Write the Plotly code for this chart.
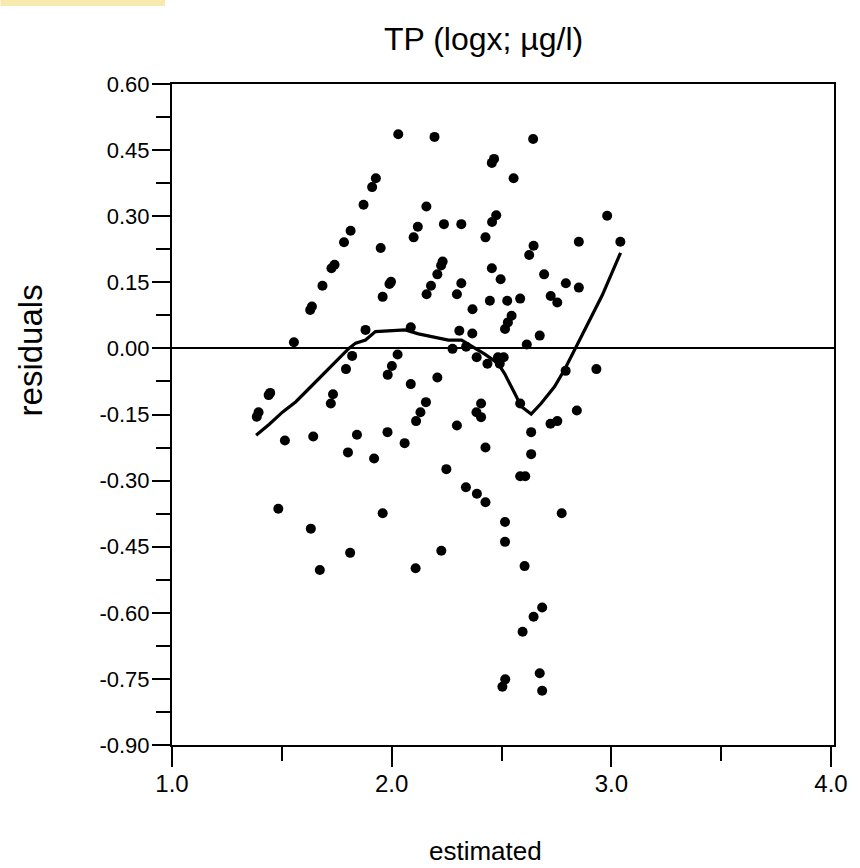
import plotly.graph_objects as go

# Scatter data: estimated (x) and residuals (y)
est = [2.030, 2.195, 1.928, 1.911, 1.872, 2.158, 2.119, 1.813, 2.100, 1.783,
       1.950, 1.740, 1.726, 2.208, 1.997, 1.990, 2.179, 1.685, 1.959, 2.159,
       1.637, 1.629, 1.881, 2.087, 1.555, 2.027, 1.820,
       2.644, 2.466, 2.456, 2.555, 2.238, 2.317, 2.981, 2.476, 2.457, 2.427,
       2.852, 3.041, 2.646, 2.626, 2.232, 2.225, 2.456, 2.496, 2.694, 2.793,
       2.852, 2.317, 2.297, 2.724, 2.754, 2.447, 2.526, 2.585, 2.368, 2.546,
       2.529, 2.516, 2.308, 2.367, 2.674, 2.615, 2.277, 2.339, 2.387,
       2.436, 2.484, 2.510, 2.492, 2.208, 2.932, 2.792, 2.156, 2.131, 2.111,
       2.407, 2.386, 2.407, 2.585, 2.297, 2.635, 2.723, 2.754, 2.843, 2.427,
       2.635, 2.249, 2.585, 2.608, 2.338, 2.388, 2.427, 2.774, 2.516, 2.516,
       2.226, 2.109, 2.605,
       2.001, 1.982, 1.792, 2.087, 1.440, 1.447, 1.386, 1.394, 1.733, 1.723,
       1.514, 1.643, 1.842, 1.981, 1.801, 2.059, 1.920, 1.484, 1.959, 1.632,
       1.811, 1.673,
       2.685, 2.646, 2.596, 2.674, 2.685, 2.517, 2.504]
resid = [0.486, 0.480, 0.386, 0.366, 0.326, 0.322, 0.276, 0.267, 0.252, 0.241,
         0.228, 0.190, 0.182, 0.168, 0.151, 0.146, 0.142, 0.142, 0.117, 0.123,
         0.095, 0.087, 0.042, 0.048, 0.014, -0.014, -0.017,
         0.475, 0.430, 0.421, 0.386, 0.282, 0.282, 0.301, 0.302, 0.287, 0.252,
         0.242, 0.242, 0.233, 0.212, 0.197, 0.188, 0.182, 0.157, 0.168, 0.148,
         0.138, 0.148, 0.123, 0.119, 0.104, 0.108, 0.108, 0.113, 0.089, 0.074,
         0.059, 0.044, 0.040, 0.034, 0.029, 0.009, -0.001, 0.004, -0.020,
         -0.035, -0.020, -0.020, -0.035, -0.066, -0.047, -0.051, -0.122, -0.145, -0.165,
         -0.125, -0.145, -0.156, -0.125, -0.175, -0.190, -0.171, -0.165, -0.141, -0.225,
         -0.240, -0.274, -0.290, -0.290, -0.315, -0.330, -0.349, -0.374, -0.394, -0.439,
         -0.459, -0.499, -0.494,
         -0.040, -0.060, -0.047, -0.081, -0.106, -0.101, -0.155, -0.145, -0.104, -0.125,
         -0.209, -0.200, -0.196, -0.190, -0.236, -0.215, -0.250, -0.364, -0.374, -0.409,
         -0.464, -0.503,
         -0.588, -0.609, -0.643, -0.737, -0.777, -0.751, -0.768]

# Smoothed (loess-like) curve
smooth_x = [1.383, 1.443, 1.504, 1.564, 1.624, 1.684, 1.745, 1.805, 1.836, 1.881,
            1.926, 1.986, 2.062, 2.122, 2.213, 2.258, 2.318, 2.379, 2.424, 2.484,
            2.514, 2.560, 2.590, 2.635, 2.680, 2.741, 2.786, 2.837, 2.891, 2.959,
            3.042]
smooth_y = [-0.197, -0.172, -0.144, -0.121, -0.091, -0.060, -0.030, 0.000, 0.012, 0.019,
            0.038, 0.040, 0.042, 0.033, 0.023, 0.019, 0.019, 0.000, -0.013, -0.034,
            -0.057, -0.102, -0.132, -0.149, -0.125, -0.087, -0.049, 0.001, 0.053, 0.121,
            0.217]

title_text = "TP (logx; µg/l)"
x_label = "estimated"
y_label = "residuals"
x_ticks = [1.0, 2.0, 3.0, 4.0]
x_ticklabels = ["1.0", "2.0", "3.0", "4.0"]
y_ticks = [0.60, 0.45, 0.30, 0.15, 0.00, -0.15, -0.30, -0.45, -0.60, -0.75, -0.90]
y_ticklabels = ["0.60", "0.45", "0.30", "0.15", "0.00", "-0.15", "-0.30", "-0.45",
                "-0.60", "-0.75", "-0.90"]

FONT = "Liberation Sans, Arial, sans-serif"
W, H = 860, 868

fig = go.Figure()
fig.add_trace(go.Scatter(x=est, y=resid, mode="markers",
                         marker=dict(color="black", size=10, line=dict(width=0)),
                         showlegend=False, hoverinfo="skip"))
fig.add_trace(go.Scatter(x=smooth_x, y=smooth_y, mode="lines",
                         line=dict(color="black", width=3.2),
                         showlegend=False, hoverinfo="skip"))

fig.update_layout(
    width=W, height=H,
    margin=dict(l=172, r=24, t=84, b=123),
    paper_bgcolor="white", plot_bgcolor="white",
    font=dict(family=FONT, color="black"),
    showlegend=False,
)
fig.update_xaxes(
    range=[1.0, 4.0136], tickmode="array", tickvals=x_ticks, ticktext=x_ticklabels,
    ticks="outside", ticklen=20, tickwidth=1.5, tickcolor="black",
    minor=dict(dtick=0.5, tick0=1.0, ticks="outside", ticklen=14, tickwidth=1.5,
               tickcolor="black", showgrid=False),
    showline=True, linewidth=2, linecolor="black", mirror=True,
    showgrid=False, zeroline=False, tickfont=dict(size=24, family=FONT),
    ticklabelstandoff=-4,
)
fig.update_yaxes(
    range=[-0.90, 0.60], tickmode="array", tickvals=y_ticks, ticktext=y_ticklabels,
    ticks="outside", ticklen=18, tickwidth=1.5, tickcolor="black",
    minor=dict(dtick=0.075, tick0=0.0, ticks="outside", ticklen=14, tickwidth=1.5,
               tickcolor="black", showgrid=False),
    showline=True, linewidth=2, linecolor="black", mirror=True,
    showgrid=False, zeroline=True, zerolinecolor="black", zerolinewidth=1.5,
    tickfont=dict(size=22, family=FONT), ticklabelstandoff=-2,
)

fig.add_annotation(text=title_text, xref="paper", yref="paper",
                   x=(484 - 172) / 664, y=1 + (84 - 39) / 661,
                   xanchor="center", yanchor="middle", showarrow=False,
                   font=dict(size=32, family=FONT))
fig.add_annotation(text=x_label, xref="paper", yref="paper",
                   x=(486 - 172) / 664, y=-(851 - 745) / 661,
                   xanchor="center", yanchor="middle", showarrow=False,
                   font=dict(size=26, family=FONT))
fig.add_annotation(text=y_label, xref="paper", yref="paper",
                   x=-(172 - 31) / 664, y=1 - (350 - 84) / 661, textangle=-90,
                   xanchor="center", yanchor="middle", showarrow=False,
                   font=dict(size=33, family=FONT))

# faint yellow strip in the top-left corner
fig.add_shape(type="rect", xref="paper", yref="paper",
              x0=-172 / 664, x1=(165 - 172) / 664,
              y0=1 + (84 - 6) / 661, y1=1 + 84 / 661,
              fillcolor="rgba(245,225,140,0.7)", line=dict(width=0), layer="below")

fig.write_html("out.html", config={"displayModeBar": False},
               post_script="document.body.style.margin='0px';document.body.style.padding='0px';")
